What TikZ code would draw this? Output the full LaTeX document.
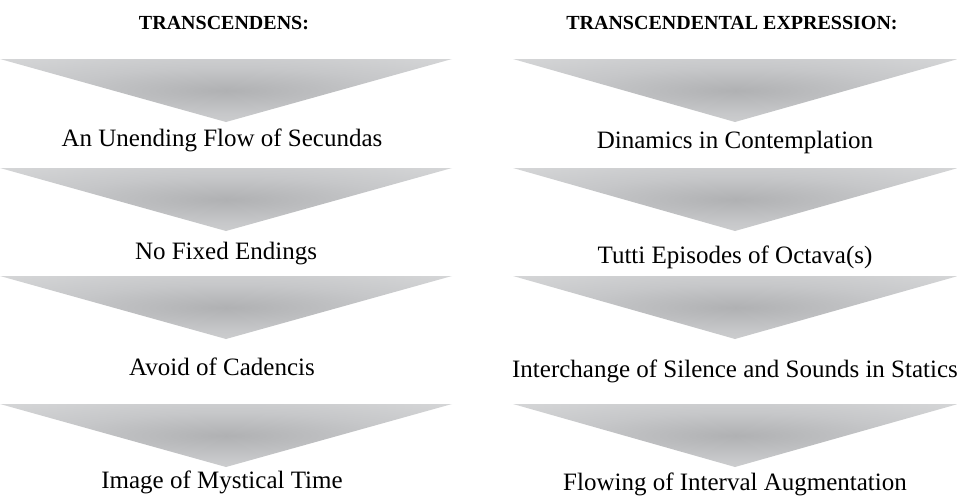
\documentclass[tikz,border=0pt]{standalone}
\usepackage{fontspec}
\setmainfont{Liberation Serif}
\definecolor{shA}{RGB}{176,177,179}
\definecolor{shB}{RGB}{198,199,201}
\definecolor{shC}{RGB}{218,219,220}
\definecolor{shD}{RGB}{246,246,246}
\pgfdeclareradialshading{chevshade}{\pgfpoint{0bp}{0bp}}{color(0bp)=(shA); color(18bp)=(shB); color(42bp)=(shC); color(70bp)=(shD); color(100bp)=(shD)}
\tikzset{
  chev/.style={shading=chevshade},
  itemtext/.style={anchor=base, inner sep=0pt, font=\fontsize{25}{30}\selectfont},
  headtext/.style={anchor=base, inner sep=0pt, font=\bfseries\fontsize{20}{24}\selectfont}
}
\begin{document}
\begin{tikzpicture}[x=1pt,y=-1pt]
\useasboundingbox (0,0) rectangle (957,495);
% headers
\node[headtext] (hl) at (224,30) {TRANSCENDENS:};
\node[headtext] (hr) at (732,30) {TRANSCENDENTAL EXPRESSION:};
% chevrons
\foreach \t in {59,168,276,404}{
  \shade[chev] (0,\t) -- (452,\t) -- (226,\t+63) -- cycle;
  \shade[chev] (513,\t) -- (958,\t) -- (735,\t+63) -- cycle;
}
% left texts
\node[itemtext] (l1) at (222,146) {An Unending Flow of Secundas};
\node[itemtext] (l2) at (226,259) {No Fixed Endings};
\node[itemtext] (l3) at (222,375) {Avoid of Cadencis};
\node[itemtext] (l4) at (222,488) {Image of Mystical Time};
% right texts
\node[itemtext] (r1) at (735,148) {Dinamics in Contemplation};
\node[itemtext] (r2) at (735,263) {Tutti Episodes of Octava(s)};
\node[itemtext] (r3) at (735,377) {Interchange of Silence and Sounds in Statics};
\node[itemtext] (r4) at (735,490) {Flowing of Interval Augmentation};
\end{tikzpicture}
\end{document}
